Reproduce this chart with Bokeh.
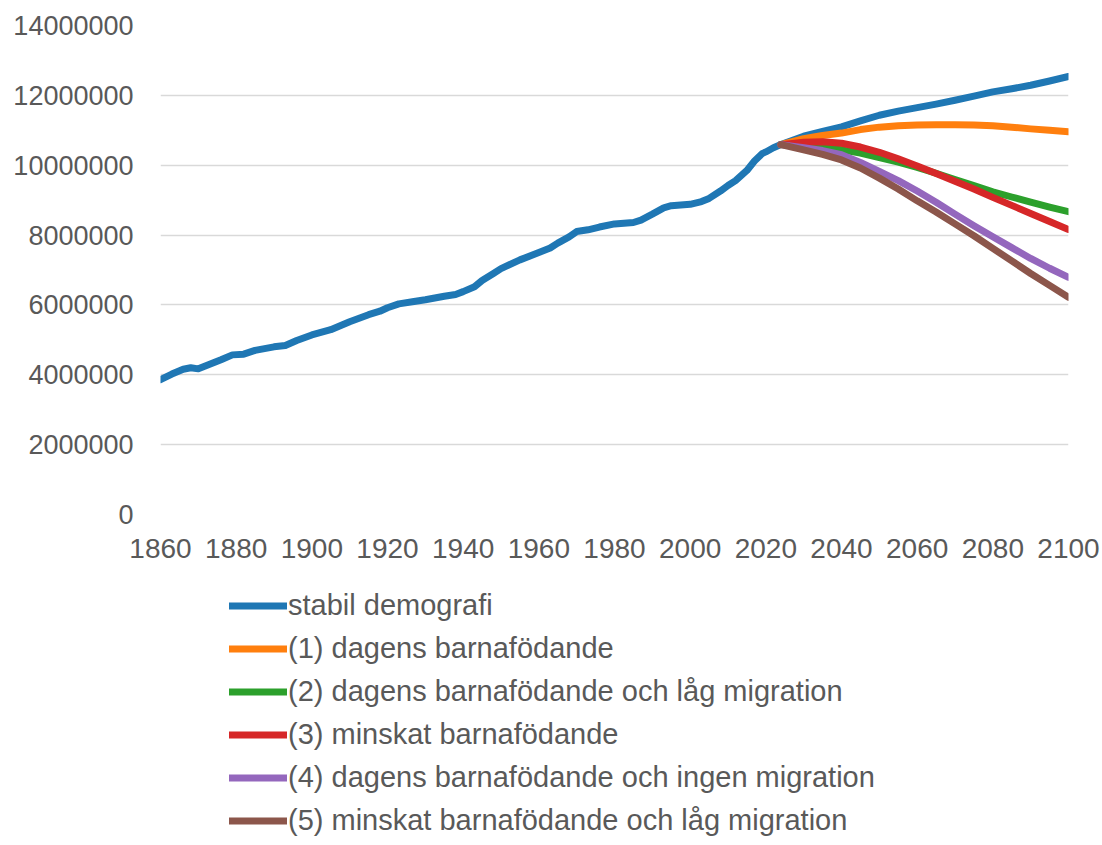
from bokeh.plotting import figure
from bokeh.layouts import column
from bokeh.models import Legend, LegendItem, FixedTicker, NumeralTickFormatter, Range1d
from bokeh.embed import file_html
from bokeh.resources import INLINE

# Historical population (millions)
hist_years = [1860, 1863, 1866, 1868, 1870, 1873, 1876, 1879, 1882, 1885, 1890, 1893, 1896,
              1900, 1905, 1910, 1915, 1918, 1920, 1923, 1927, 1930, 1935, 1938, 1940, 1943,
              1945, 1948, 1950, 1955, 1960, 1963, 1965, 1968, 1970, 1973, 1976, 1980, 1985,
              1987, 1990, 1993, 1995, 2000, 2003, 2005, 2008, 2010, 2012, 2015, 2017, 2019,
              2020, 2022, 2024]
hist_pop = [3.86, 4.02, 4.16, 4.20, 4.17, 4.30, 4.43, 4.57, 4.59, 4.70, 4.80, 4.84, 4.98,
            5.14, 5.29, 5.52, 5.72, 5.82, 5.92, 6.03, 6.10, 6.15, 6.25, 6.30, 6.38, 6.52,
            6.70, 6.90, 7.04, 7.29, 7.50, 7.63, 7.77, 7.95, 8.10, 8.15, 8.23, 8.32, 8.36,
            8.43, 8.60, 8.78, 8.84, 8.88, 8.96, 9.05, 9.26, 9.42, 9.56, 9.85, 10.12, 10.33,
            10.38, 10.50, 10.59]

# Projections (millions)
proj_years = [2024, 2030, 2035, 2040, 2045, 2050, 2055, 2060, 2065, 2070, 2075, 2080,
              2085, 2090, 2095, 2100]
stabil = [10.59, 10.83, 10.97, 11.10, 11.27, 11.43, 11.55, 11.65, 11.75, 11.86, 11.98,
          12.10, 12.19, 12.29, 12.41, 12.54]
scen1 = [10.59, 10.76, 10.85, 10.92, 11.02, 11.09, 11.13, 11.15, 11.16, 11.16, 11.15,
         11.13, 11.09, 11.04, 11.00, 10.96]
scen2 = [10.59, 10.54, 10.50, 10.44, 10.35, 10.22, 10.09, 9.94, 9.77, 9.59, 9.42,
         9.24, 9.09, 8.94, 8.80, 8.67]
scen3 = [10.59, 10.66, 10.67, 10.63, 10.52, 10.37, 10.18, 9.98, 9.76, 9.54, 9.32,
         9.08, 8.85, 8.62, 8.39, 8.16]
scen4 = [10.59, 10.50, 10.42, 10.30, 10.08, 9.82, 9.56, 9.26, 8.94, 8.60, 8.27,
         7.95, 7.64, 7.33, 7.05, 6.79]
scen5 = [10.59, 10.44, 10.31, 10.15, 9.92, 9.63, 9.32, 8.98, 8.66, 8.32, 7.98,
         7.62, 7.26, 6.90, 6.56, 6.22]

labels = ["stabil demografi",
          "(1) dagens barnafödande",
          "(2) dagens barnafödande och låg migration",
          "(3) minskat barnafödande",
          "(4) dagens barnafödande och ingen migration",
          "(5) minskat barnafödande och låg migration"]
colors = ["#1f77b4", "#ff7f0e", "#2ca02c", "#d62728", "#9467bd", "#8c564b"]

x_ticks = list(range(1860, 2101, 20))
y_ticks = [0, 2000000, 4000000, 6000000, 8000000, 10000000, 12000000, 14000000]

FONT = "Liberation Sans"
TXT = "#595959"
LW = 7

blue_x = hist_years + proj_years[1:]
blue_y = [v * 1e6 for v in hist_pop + stabil[1:]]
series = [(blue_x, blue_y)] + [
    (proj_years, [v * 1e6 for v in s]) for s in [scen1, scen2, scen3, scen4, scen5]]

# ---- main chart ----
p = figure(frame_width=908, frame_height=489,
           x_range=Range1d(1860, 2100), y_range=Range1d(0, 14000000),
           output_backend="svg", toolbar_location=None,
           min_border_left=160, min_border_right=32, min_border_top=25,
           min_border_bottom=70)
p.outline_line_color = None
p.background_fill_color = "white"
p.border_fill_color = "white"

for (xs, ys), c in zip(series, colors):
    p.line(xs, ys, line_color=c, line_width=LW, line_cap="round", line_join="round")

p.xgrid.visible = False
p.ygrid.grid_line_color = "#d9d9d9"
p.ygrid.grid_line_width = 1.5

for ax in (p.xaxis[0], p.yaxis[0]):
    ax.axis_line_color = None
    ax.major_tick_line_color = None
    ax.minor_tick_line_color = None
    ax.major_tick_out = 0
    ax.major_label_text_font = FONT
    ax.major_label_text_color = TXT

p.xaxis.major_label_text_font_size = "28px"
p.yaxis.major_label_text_font_size = "27px"
p.xaxis.ticker = FixedTicker(ticks=x_ticks)
p.xaxis.formatter = NumeralTickFormatter(format="0")
p.xaxis.major_label_standoff = 24
p.yaxis.ticker = FixedTicker(ticks=y_ticks)
p.yaxis.formatter = NumeralTickFormatter(format="0")
p.yaxis.major_label_standoff = 27

# ---- legend panel ----
leg = figure(width=1100, height=261, x_range=Range1d(0, 1), y_range=Range1d(0, 1),
             output_backend="svg", toolbar_location=None,
             x_axis_type=None, y_axis_type=None, min_border=0)
leg.outline_line_color = None
leg.grid.visible = False
leg.background_fill_color = "white"
leg.border_fill_color = "white"

items = []
for (xs, ys), c, lab in zip(series, colors, labels):
    r = leg.line(xs, ys, line_color=c, line_width=LW, line_cap="round", visible=False)
    items.append(LegendItem(label=lab, renderers=[r]))

legend = Legend(items=items, location=(69, 6), orientation="vertical",
                label_text_font=FONT, label_text_color=TXT, label_text_font_size="29px",
                glyph_width=58, glyph_height=37, label_height=37, spacing=6,
                padding=0, margin=0, label_standoff=1,
                inactive_fill_alpha=0,
                border_line_color=None, background_fill_alpha=0)
leg.add_layout(legend, "center")

layout = column(p, leg, spacing=0)
open("out.html", "w").write(file_html(layout, INLINE))
